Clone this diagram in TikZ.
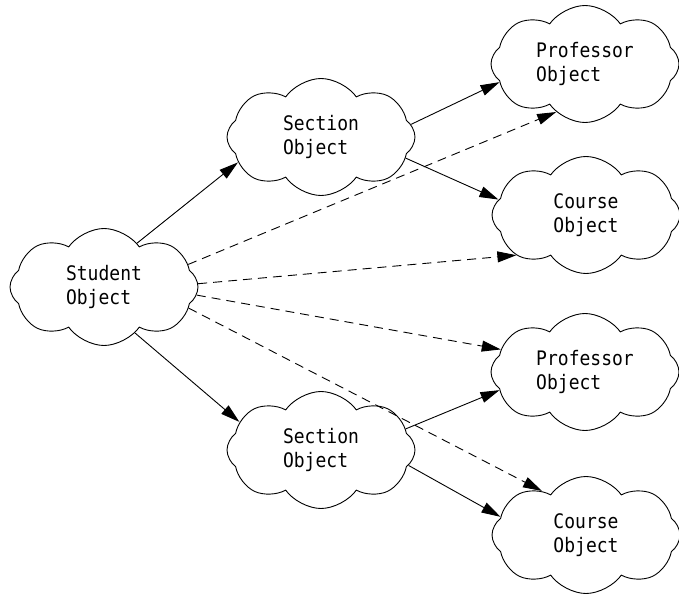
\documentclass[tikz,border=0pt]{standalone}
\usepackage{fontspec}
\newfontfamily\monof[FakeStretch=0.9]{DejaVu Sans Mono}
\usetikzlibrary{shapes.symbols,arrows.meta}
\begin{document}
\begin{tikzpicture}[x=1pt,y=-1pt,
  obj/.style={cloud, cloud puffs=8, cloud puff arc=110, cloud ignores aspect, draw, line width=0.9pt,
    minimum width=188pt, minimum height=117pt, inner sep=0pt, align=left, shape border rotate=0,
    font=\monof\fontsize{20}{23.5}\selectfont},
  link/.style={line width=0.9pt, -{Triangle[length=19pt,width=11pt]}},
  dlink/.style={link, dash pattern=on 9pt off 6pt}]
\useasboundingbox (0,0) rectangle (679,596);
\node[obj] (st) at (104,287) {Student\\Object};
\node[obj] (s1) at (321,137) {Section\\Object};
\node[obj] (s2) at (321,450) {Section\\Object};
\node[obj] (p1) at (585,64) {Professor\\Object};
\node[obj] (c1) at (586,215) {Course\\Object};
\node[obj] (p2) at (585,372) {Professor\\Object};
\node[obj] (c2) at (586,535) {Course\\Object};
\draw[link] (st.53) -- (s1.197);
\draw[link] (st.-56) -- (s2.161);
\draw[link] (s1.8) -- (p1.192);
\draw[link] (s1.-14) -- (c1.170);
\draw[link] (s2.14) -- (p2.192);
\draw[link] (s2.-10) -- (c2.168);
\draw[dlink] (st.15) -- (p1.239);
\draw[dlink] (st.2) -- (c1.210);
\draw[dlink] (st.-5) -- (p2.165);
\draw[dlink] (st.-14) -- (c2.135);
\end{tikzpicture}
\end{document}
